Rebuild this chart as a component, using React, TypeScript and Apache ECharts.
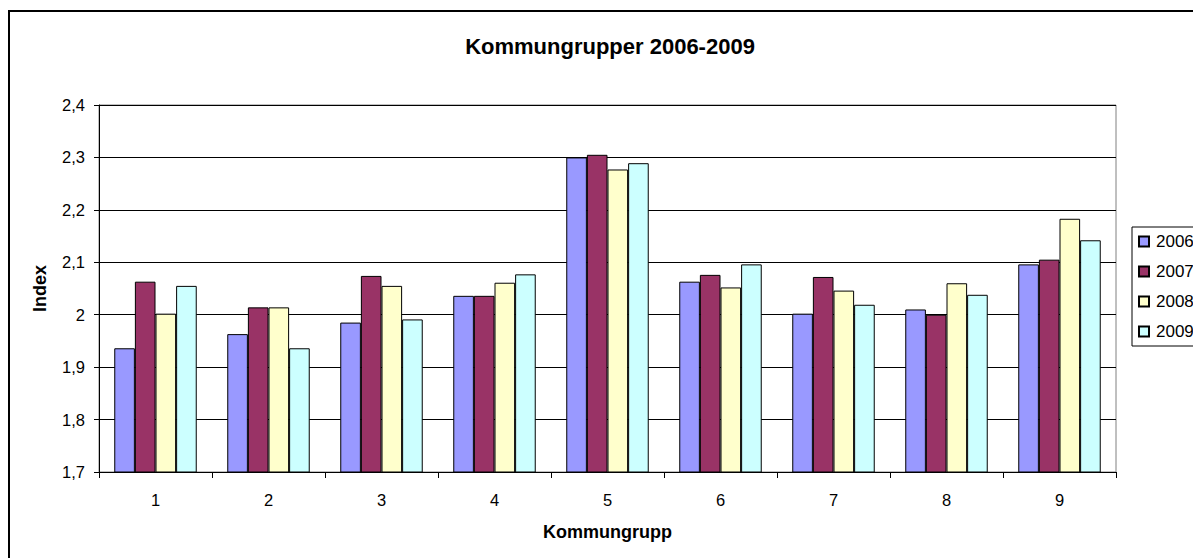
import React, { useEffect, useRef } from "react";
import * as echarts from "echarts";

const categories = ["1", "2", "3", "4", "5", "6", "7", "8", "9"];
const seriesNames = ["2006", "2007", "2008", "2009"];
const values2006 = [1.936, 1.963, 1.985, 2.036, 2.3, 2.063, 2.002, 2.01, 2.096];
const values2007 = [2.063, 2.014, 2.074, 2.036, 2.305, 2.076, 2.072, 2.0, 2.105];
const values2008 = [2.002, 2.014, 2.055, 2.061, 2.277, 2.052, 2.046, 2.06, 2.183];
const values2009 = [2.055, 1.936, 1.991, 2.077, 2.289, 2.096, 2.019, 2.038, 2.142];
const seriesColors = ["#9999FF", "#993366", "#FFFFCC", "#CCFFFF"];

const FONT = "'Liberation Sans', Arial, sans-serif";

export default function App() {
  const ref = useRef<HTMLDivElement>(null);
  useEffect(() => {
    if (!ref.current) return;
    const chart = echarts.init(ref.current, null, { renderer: "svg" });
    const allValues = [values2006, values2007, values2008, values2009];
    chart.setOption({
      animation: false,
      backgroundColor: "#ffffff",
      textStyle: { fontFamily: FONT, color: "#000" },
      title: {
        text: "Kommungrupper 2006-2009",
        left: 605,
        textAlign: "center",
        top: 30,
        textStyle: { fontFamily: FONT, fontSize: 22, fontWeight: "bold", color: "#000" },
      },
      legend: {
        orient: "vertical",
        left: 1132,
        top: 227,
        data: seriesNames,
        itemWidth: 10,
        itemHeight: 10,
        itemGap: 13,
        icon: "rect",
        padding: [6, 30, 6, 6],
        borderColor: "#000",
        borderWidth: 1,
        textStyle: { fontFamily: FONT, fontSize: 17, color: "#000", padding: [0, 0, 0, 2] },
      },
      grid: {
        left: 99,
        right: 77,
        top: 105,
        bottom: 86,
        show: true,
        borderColor: "#808080",
        borderWidth: 1,
        backgroundColor: "transparent",
      },
      xAxis: {
        type: "category",
        data: categories,
        name: "Kommungrupp",
        nameLocation: "middle",
        nameGap: 51,
        nameTextStyle: { fontFamily: FONT, fontSize: 18, fontWeight: "bold", color: "#000" },
        axisLine: { lineStyle: { color: "#000", width: 1 } },
        axisTick: { show: true, length: 6, lineStyle: { color: "#000" } },
        axisLabel: { fontFamily: FONT, fontSize: 16.5, color: "#000", margin: 19 },
      },
      yAxis: {
        type: "value",
        min: 1.7,
        max: 2.4,
        interval: 0.1,
        name: "Index",
        nameLocation: "middle",
        nameGap: 50,
        nameTextStyle: { fontFamily: FONT, fontSize: 18, fontWeight: "bold", color: "#000" },
        axisLine: { show: true, lineStyle: { color: "#000", width: 1 } },
        axisTick: { show: true, length: 5, lineStyle: { color: "#000" } },
        axisLabel: {
          fontFamily: FONT,
          fontSize: 16.5,
          color: "#000",
          margin: 14,
          formatter: (v: number) => String(Math.round(v * 10) / 10).replace(".", ","),
        },
        splitLine: { show: true, lineStyle: { color: "#000", width: 1 } },
      },
      series: seriesNames.map((name, i) => ({
        name,
        type: "bar",
        data: allValues[i],
        barGap: "0%",
        barCategoryGap: "27%",
        itemStyle: { color: seriesColors[i], borderColor: "#000", borderWidth: 1 },
      })),
      graphic: [
        { type: "line", shape: { x1: 9, y1: 11, x2: 9, y2: 560 }, style: { stroke: "#000", lineWidth: 2 } },
        { type: "line", shape: { x1: 8, y1: 11, x2: 1195, y2: 11 }, style: { stroke: "#000", lineWidth: 2 } },
      ],
    });
    return () => chart.dispose();
  }, []);
  return (
    <div
      ref={ref}
      style={{ position: "fixed", left: 0, top: 0, width: 1193, height: 558 }}
    />
  );
}
